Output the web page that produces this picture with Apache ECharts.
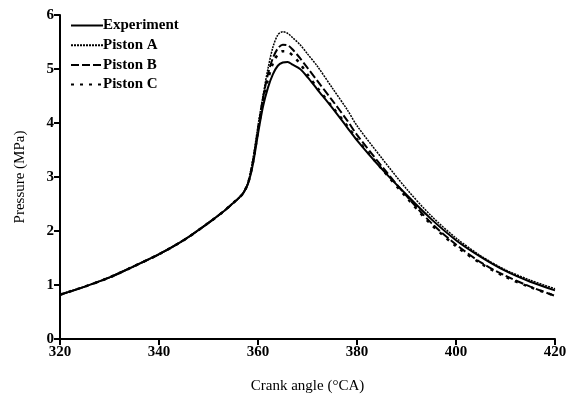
<!DOCTYPE html>
<html><head><meta charset="utf-8">
<script src="https://cdn.jsdelivr.net/npm/echarts@6/dist/echarts.min.js"></script>
<style>html,body{margin:0;padding:0;background:#fff}#c{width:573px;height:402px}</style>
</head><body><div id="c"></div>
<script>
var angles =     [320, 325, 330, 335, 340, 345, 350, 353, 355, 356, 357, 358, 359, 360, 361, 362, 363, 364, 365, 366, 367, 368.5, 370, 372, 375, 378, 380, 385, 390, 395, 400, 405, 410, 415, 420];
var experiment = [0.82,0.97,1.14,1.35,1.57,1.83,2.15,2.36,2.52,2.60,2.70,2.88,3.25,3.80,4.30,4.65,4.90,5.06,5.12,5.13,5.08,5.00,4.85,4.62,4.28,3.92,3.68,3.15,2.67,2.22,1.83,1.52,1.26,1.06,0.90];
var pistonA =    [0.82,0.97,1.14,1.35,1.57,1.83,2.15,2.36,2.52,2.60,2.70,2.90,3.35,3.95,4.50,5.00,5.40,5.63,5.69,5.66,5.58,5.45,5.28,5.05,4.65,4.25,3.95,3.35,2.78,2.28,1.87,1.54,1.28,1.09,0.93];
var pistonB =    [0.82,0.97,1.14,1.35,1.57,1.83,2.15,2.36,2.52,2.60,2.70,2.89,3.30,3.88,4.45,4.90,5.20,5.38,5.45,5.44,5.36,5.20,5.02,4.78,4.42,4.05,3.78,3.20,2.65,2.15,1.75,1.42,1.17,0.97,0.80];
var pistonC =    [0.82,0.97,1.14,1.35,1.57,1.83,2.15,2.36,2.52,2.60,2.70,2.89,3.28,3.85,4.40,4.80,5.10,5.27,5.33,5.32,5.25,5.10,4.90,4.65,4.30,3.95,3.70,3.15,2.62,2.12,1.72,1.40,1.15,0.96,0.80];
var seriesNames = ['Experiment','Piston A','Piston B','Piston C'];

function pairs(ys){ return angles.map(function(a,i){ return [a, ys[i]]; }); }
var font = 'Liberation Serif';
var chart = echarts.init(document.getElementById('c'), null, {renderer:'canvas'});
function mk(name, ys, type, width){
  return {name:name, type:'line', data:pairs(ys), showSymbol:false, symbol:'none', smooth:0.3,
    lineStyle:{color:'#000', width:width, type:type}, itemStyle:{color:'#000'}};
}
chart.setOption({
  animation:false,
  grid:{left:60, right:18, top:15, bottom:63},
  legend:{
    orient:'vertical', left:65, top:13, itemWidth:32, itemHeight:14, itemGap:4.7,
    itemStyle:{opacity:0},
    textStyle:{fontFamily:font, fontSize:15, color:'#000', fontWeight:'bold', padding:[0,0,0,-5]},
    data:seriesNames
  },
  xAxis:{type:'value', min:320, max:420, interval:20,
    name:'Crank angle (°CA)', nameLocation:'middle', nameGap:40,
    nameTextStyle:{fontFamily:font, fontSize:15, color:'#000'},
    axisLine:{show:true, lineStyle:{color:'#000', width:2}},
    axisTick:{show:true, length:6, lineStyle:{color:'#000', width:2}},
    axisLabel:{fontFamily:font, fontSize:15, fontWeight:'bold', color:'#000', margin:6},
    splitLine:{show:false}},
  yAxis:{type:'value', min:0, max:6, interval:1,
    name:'Pressure (MPa)', nameLocation:'middle', nameGap:32,
    nameTextStyle:{fontFamily:font, fontSize:15, color:'#000'},
    axisLine:{show:true, lineStyle:{color:'#000', width:2}},
    axisTick:{show:true, length:6, lineStyle:{color:'#000', width:2}},
    axisLabel:{fontFamily:font, fontSize:15, fontWeight:'bold', color:'#000', margin:6},
    splitLine:{show:false}},
  series:[
    mk('Experiment', experiment, 'solid', 2),
    mk('Piston A', pistonA, [2,1], 1.5),
    mk('Piston B', pistonB, [8,3], 2),
    mk('Piston C', pistonC, [3,6], 2.5)
  ]
});
</script></body></html>
